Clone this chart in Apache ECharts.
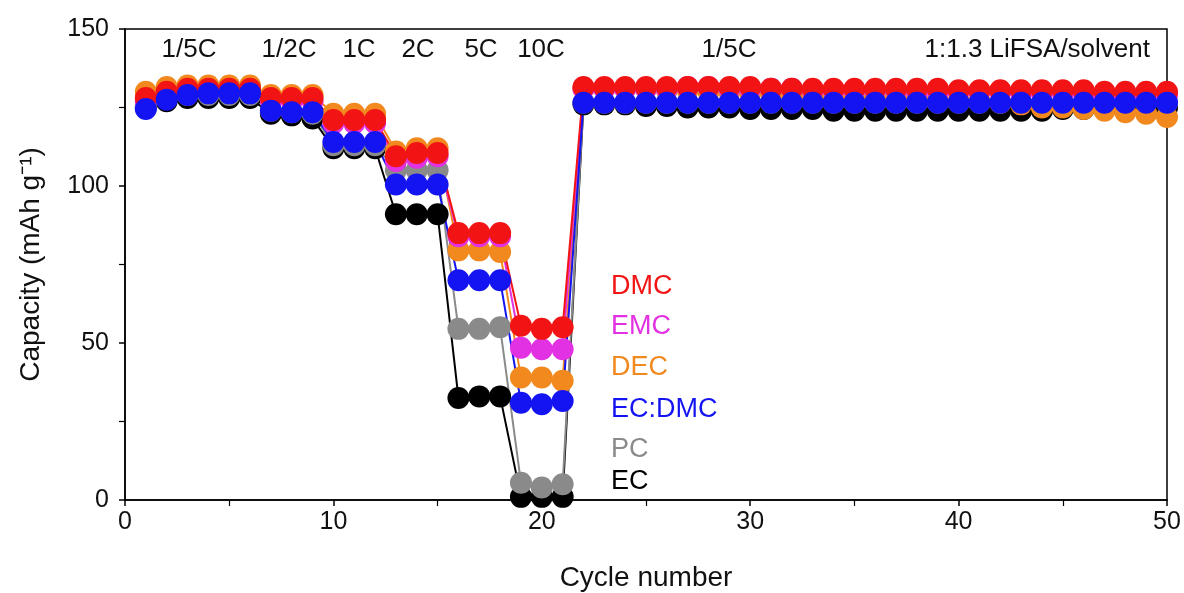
<!DOCTYPE html>
<html>
<head>
<meta charset="utf-8">
<script src="https://cdn.jsdelivr.net/npm/echarts@6/dist/echarts.min.js"></script>
<style>
  html, body { margin: 0; padding: 0; background: #ffffff; }
  #chart { width: 1184px; height: 593px; }
</style>
</head>
<body>
<div id="chart"></div>
<script>
// Cycle index (x axis)
const cycles = [
  1, 2, 3, 4, 5, 6, 7, 8, 9, 10,
  11, 12, 13, 14, 15, 16, 17, 18, 19, 20,
  21, 22, 23, 24, 25, 26, 27, 28, 29, 30,
  31, 32, 33, 34, 35, 36, 37, 38, 39, 40,
  41, 42, 43, 44, 45, 46, 47, 48, 49, 50
];

// Discharge capacity (mAh g-1) per solvent, cycles 1..50
const capEC = [
  125, 127, 128, 128, 128, 128,
  123, 122.5, 121.5,
  112, 112, 112,
  91, 91, 91,
  32.5, 33, 33,
  1, 1, 1,
  126, 126, 126, 125.5, 125.5, 125, 125, 125, 124.5, 124.5,
  124.5, 124.5, 124, 124, 124, 124, 124, 124, 124, 124,
  124, 124, 124, 124.5, 124.5, 124.5, 125, 125, 125
];
const capPC = [
  126, 128, 129, 129, 129, 129,
  124, 123.5, 123,
  113, 113, 113,
  105, 105, 105,
  54.5, 54.5, 55,
  5.5, 4, 5,
  126.5, 126.5, 126.5, 126.5, 126.5, 126.5, 126.5, 126.5, 126.5, 126.5,
  126.5, 126.5, 126.5, 126.5, 126.5, 126.5, 126.5, 126.5, 126.5, 126.5,
  126.5, 126.5, 126.5, 126.5, 126.5, 126.5, 126.5, 126.5, 126.5
];
const capDEC = [
  130, 131.5, 132, 132, 132, 132,
  129, 129, 129,
  123, 123, 123,
  111, 112, 112,
  79.5, 79.5, 79,
  39, 39, 38,
  131, 131, 131, 131, 130.5, 130.5, 130, 130, 129.5, 129.5,
  129, 129, 128.5, 128.5, 128, 128, 127.5, 127.5, 127, 127,
  126.5, 126, 125, 125, 124.5, 124, 123.5, 123, 122
];
const capEMC = [
  127, 129, 130, 130, 130, 130,
  127, 127, 127,
  120, 120, 120,
  108, 109, 109.5,
  84, 84, 84,
  48.5, 48, 48,
  131, 131, 131, 131, 131, 131.5, 131.5, 131, 131, 131,
  131, 130.5, 130.5, 130.5, 130.5, 130.5, 130, 130, 130, 130,
  130, 129.5, 129.5, 129.5, 129.5, 129, 129, 129, 129
];
const capDMC = [
  128, 130, 131, 131, 131, 131,
  128, 128, 128,
  121, 121, 121,
  109.5, 110.5, 110.5,
  85, 85, 85,
  55.5, 54.5, 55,
  131.5, 131.5, 131.5, 131.5, 131.5, 131.5, 131.5, 131.5, 131.5, 131,
  131, 131, 131, 131, 131, 131, 131, 131, 130.5, 130.5,
  130.5, 130.5, 130.5, 130.5, 130.5, 130, 130, 130, 130
];
const capECDMC = [
  124.5, 127.5, 129, 129.5, 129.5, 129.5,
  124, 123.5, 123.5,
  114, 114, 114,
  100.5, 100.5, 100.5,
  70, 70, 70,
  31, 30.5, 31.5,
  126.5, 126.5, 126.5, 126.5, 126.5, 126.5, 126.5, 126.5, 126.5, 126.5,
  126.5, 126.5, 126.5, 126.5, 126.5, 126.5, 126.5, 126.5, 126.5, 126.5,
  126.5, 126.5, 126.5, 126.5, 126.5, 126.5, 126.5, 126.5, 126.5
];

// Axis ticks
const xTicks = [0, 10, 20, 30, 40, 50];
const yTicks = [0, 50, 100, 150];

// C-rate segment labels drawn above the data
const rateLabels = ['1/5C', '1/2C', '1C', '2C', '5C', '10C', '1/5C'];
const rateLabelX = [189, 289, 359, 418, 481, 541, 729];

// Solvent names, stacked beside the 10C dip (top to bottom)
const keyNames = ['DMC', 'EMC', 'DEC', 'EC:DMC', 'PC', 'EC'];
const keyY = [287, 327, 368, 410, 450, 482];

const colors = {
  'EC': '#000000',
  'PC': '#8a8a8a',
  'DEC': '#f2891e',
  'EMC': '#e231e2',
  'DMC': '#f21414',
  'EC:DMC': '#1414f2'
};

// Drawing order: later series sit on top
const drawOrder = [
  ['EC', capEC],
  ['PC', capPC],
  ['DEC', capDEC],
  ['EMC', capEMC],
  ['DMC', capDMC],
  ['EC:DMC', capECDMC]
];

const FONT = '"Liberation Sans", Arial, Helvetica, sans-serif';

const chart = echarts.init(document.getElementById('chart'), null, { renderer: 'canvas' });

const series = drawOrder.map(([name, values]) => ({
  name: name,
  type: 'line',
  data: cycles.map((c, i) => [c, values[i]]),
  symbol: 'circle',
  symbolSize: 22,
  showSymbol: true,
  animation: false,
  lineStyle: { color: colors[name], width: 2 },
  itemStyle: { color: colors[name] },
  emphasis: { disabled: true }
}));

const graphics = [];
rateLabels.forEach((t, i) => {
  graphics.push({
    type: 'text',
    x: rateLabelX[i],
    y: 50,
    style: {
      text: t, fill: '#111', font: '26px ' + FONT,
      textAlign: 'center', textVerticalAlign: 'middle'
    }
  });
});
graphics.push({
  type: 'text',
  x: 1150,
  y: 50,
  style: {
    text: '1:1.3 LiFSA/solvent', fill: '#111', font: '26px ' + FONT,
    textAlign: 'right', textVerticalAlign: 'middle'
  }
});
keyNames.forEach((t, i) => {
  graphics.push({
    type: 'text',
    x: 611,
    y: keyY[i],
    style: {
      text: t, fill: colors[t], font: '27px ' + FONT,
      textAlign: 'left', textVerticalAlign: 'middle'
    }
  });
});

chart.setOption({
  animation: false,
  backgroundColor: '#ffffff',
  grid: {
    left: 125, right: 17, top: 29, bottom: 93,
    outerBoundsMode: 'none',
    containLabel: false,
    show: true, borderColor: '#000', borderWidth: 1.5,
    backgroundColor: 'transparent'
  },
  xAxis: {
    type: 'value',
    min: xTicks[0], max: xTicks[xTicks.length - 1], interval: 10,
    name: 'Cycle number',
    nameLocation: 'middle',
    nameGap: 64,
    nameTextStyle: { fontFamily: FONT, fontSize: 28, color: '#111' },
    axisLine: { show: true, lineStyle: { color: '#000', width: 1.5 } },
    axisTick: { show: true, inside: false, length: 6, lineStyle: { color: '#000', width: 1.5 } },
    minorTick: { show: true, splitNumber: 2, length: 6, lineStyle: { color: '#000', width: 1.2 } },
    axisLabel: { fontFamily: FONT, fontSize: 25, color: '#111', margin: 10 },
    splitLine: { show: false }
  },
  yAxis: {
    type: 'value',
    min: yTicks[0], max: yTicks[yTicks.length - 1], interval: 50,
    name: 'Capacity (mAh g\u207B\u00B9)',
    nameLocation: 'middle',
    nameRotate: 90,
    nameGap: 80,
    nameTextStyle: { fontFamily: FONT, fontSize: 28, color: '#111' },
    axisLine: { show: true, lineStyle: { color: '#000', width: 1.5 } },
    axisTick: { show: true, inside: false, length: 6, lineStyle: { color: '#000', width: 1.5 } },
    minorTick: { show: true, splitNumber: 2, length: 6, lineStyle: { color: '#000', width: 1.2 } },
    axisLabel: { fontFamily: FONT, fontSize: 25, color: '#111', margin: 16 },
    splitLine: { show: false }
  },
  series: series,
  graphic: graphics
});
</script>
</body>
</html>
